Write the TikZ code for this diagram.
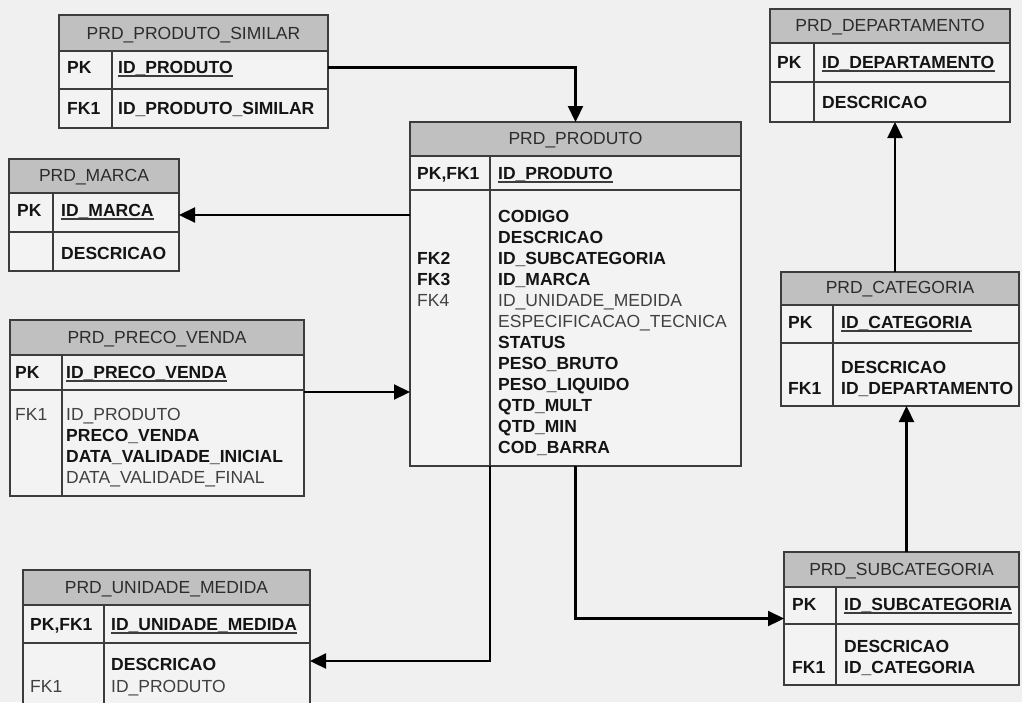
\documentclass[tikz,border=0pt]{standalone}
\usepackage{fontspec}
\setmainfont{Liberation Sans}
\usetikzlibrary{arrows.meta,calc}
\definecolor{bgc}{HTML}{F0F0F0}
\definecolor{bodyc}{HTML}{F3F3F3}
\definecolor{hdrfillc}{HTML}{C0C0C0}
\definecolor{framec}{HTML}{3C3C3C}
\definecolor{hdrc}{HTML}{2C2C2C}
\definecolor{boldc}{HTML}{141414}
\definecolor{regc}{HTML}{404040}
\newcommand{\fs}{\fontsize{17.5}{21}\selectfont}
\tikzset{
  x=1pt, y=-1pt,
  tbody/.style={fill=bodyc, inner sep=0pt, outer sep=0pt, anchor=north west},
  frameline/.style={draw=framec, line width=1.8pt},
  hdrtext/.style={anchor=base, inner sep=0pt, text=hdrc, font=\fs},
  keyb/.style={anchor=base west, inner sep=0pt, text=boldc, font=\fs\bfseries},
  keyr/.style={anchor=base west, inner sep=0pt, text=regc, font=\fs},
  ulline/.style={draw=framec, line width=1.2pt},
  arr/.style={draw=black, line width=2.2pt, -{Triangle[length=16pt,width=15pt]}},
}
% name, x1, y1, x2, y2, header bottom, first row bottom, divider x, title
\newcommand{\ertable}[9]{%
  \node[tbody, minimum width={(#4-(#2))*1pt}, minimum height={(#5-(#3))*1pt}] (#1) at (#2,#3) {};
  \fill[hdrfillc] (#2,#3) rectangle (#4,#6);
  \node[hdrtext] (#1-title) at ({(#2+#4)/2},{#6-12}) {#9};
  \draw[frameline] (#2,#6) -- (#4,#6) (#2,#7) -- (#4,#7) (#8,#6) -- (#8,#5);
  \draw[frameline] (#1.north west) rectangle (#1.south east);
}
\newcommand{\fld}[5]{\node[#1] (#2) at (#3,#4) {#5};}
\newcommand{\keyline}[1]{\draw[ulline] ([yshift=-3pt]#1.base west) -- ([yshift=-3pt]#1.base east);}
\begin{document}
\begin{tikzpicture}
\useasboundingbox (0,0) rectangle (1022,702);
\fill[bgc] (0,0) rectangle (1022,702);
\clip (0,0) rectangle (1022,702);

% PRD_PRODUTO_SIMILAR
\ertable{sim}{59}{15}{328}{128}{51}{89}{112}{PRD\_PRODUTO\_SIMILAR}
\fld{keyb}{sim-pk}{67}{73}{PK}
\fld{keyb}{sim-id}{118}{73}{ID\_PRODUTO}\keyline{sim-id}
\fld{keyb}{sim-fk1}{67}{114}{FK1}
\fld{keyb}{sim-f1}{118}{114}{ID\_PRODUTO\_SIMILAR}

% PRD_MARCA
\ertable{marca}{9}{159}{179}{271}{193}{232}{53}{PRD\_MARCA}
\fld{keyb}{marca-pk}{17}{216}{PK}
\fld{keyb}{marca-id}{61}{216}{ID\_MARCA}\keyline{marca-id}
\fld{keyb}{marca-f1}{61}{259}{DESCRICAO}

% PRD_PRECO_VENDA
\ertable{preco}{10}{320}{304}{496}{355}{390}{62}{PRD\_PRECO\_VENDA}
\fld{keyb}{preco-pk}{15}{378}{PK}
\fld{keyb}{preco-id}{66}{378}{ID\_PRECO\_VENDA}\keyline{preco-id}
\fld{keyr}{preco-fk1}{15}{420}{FK1}
\fld{keyr}{preco-f1}{66}{420}{ID\_PRODUTO}
\fld{keyb}{preco-f2}{66}{441}{PRECO\_VENDA}
\fld{keyb}{preco-f3}{66}{462}{DATA\_VALIDADE\_INICIAL}
\fld{keyr}{preco-f4}{66}{483}{DATA\_VALIDADE\_FINAL}

% PRD_PRODUTO
\ertable{prod}{410}{122}{741}{466}{156}{190}{490}{PRD\_PRODUTO}
\fld{keyb}{prod-pk}{417}{179}{PK,FK1}
\fld{keyb}{prod-id}{498}{179}{ID\_PRODUTO}\keyline{prod-id}
\fld{keyb}{prod-fk2}{417}{264}{FK2}
\fld{keyb}{prod-fk3}{417}{285}{FK3}
\fld{keyr}{prod-fk4}{417}{306}{FK4}
\fld{keyb}{prod-f1}{498}{222}{CODIGO}
\fld{keyb}{prod-f2}{498}{243}{DESCRICAO}
\fld{keyb}{prod-f3}{498}{264}{ID\_SUBCATEGORIA}
\fld{keyb}{prod-f4}{498}{285}{ID\_MARCA}
\fld{keyr}{prod-f5}{498}{306}{ID\_UNIDADE\_MEDIDA}
\fld{keyr}{prod-f6}{498}{327}{ESPECIFICACAO\_TECNICA}
\fld{keyb}{prod-f7}{498}{348}{STATUS}
\fld{keyb}{prod-f8}{498}{369}{PESO\_BRUTO}
\fld{keyb}{prod-f9}{498}{390}{PESO\_LIQUIDO}
\fld{keyb}{prod-f10}{498}{411}{QTD\_MULT}
\fld{keyb}{prod-f11}{498}{432}{QTD\_MIN}
\fld{keyb}{prod-f12}{498}{453}{COD\_BARRA}

% PRD_DEPARTAMENTO
\ertable{dept}{770}{9}{1010}{122}{43}{82}{814}{PRD\_DEPARTAMENTO}
\fld{keyb}{dept-pk}{777}{68}{PK}
\fld{keyb}{dept-id}{822}{68}{ID\_DEPARTAMENTO}\keyline{dept-id}
\fld{keyb}{dept-f1}{822}{108}{DESCRICAO}

% PRD_CATEGORIA
\ertable{cat}{781}{272}{1019}{406}{305}{343}{833}{PRD\_CATEGORIA}
\fld{keyb}{cat-pk}{788}{328}{PK}
\fld{keyb}{cat-id}{841}{328}{ID\_CATEGORIA}\keyline{cat-id}
\fld{keyb}{cat-f1}{841}{373}{DESCRICAO}
\fld{keyb}{cat-fk1}{788}{394}{FK1}
\fld{keyb}{cat-f2}{841}{394}{ID\_DEPARTAMENTO}

% PRD_SUBCATEGORIA
\ertable{subcat}{784}{552}{1019}{685}{587}{624}{836}{PRD\_SUBCATEGORIA}
\fld{keyb}{subcat-pk}{792}{610}{PK}
\fld{keyb}{subcat-id}{844}{610}{ID\_SUBCATEGORIA}\keyline{subcat-id}
\fld{keyb}{subcat-f1}{844}{652}{DESCRICAO}
\fld{keyb}{subcat-fk1}{792}{673}{FK1}
\fld{keyb}{subcat-f2}{844}{673}{ID\_CATEGORIA}

% PRD_UNIDADE_MEDIDA
\ertable{uni}{23}{570}{310}{720}{605}{643}{104}{PRD\_UNIDADE\_MEDIDA}
\fld{keyb}{uni-pk}{30}{630}{PK,FK1}
\fld{keyb}{uni-id}{111}{630}{ID\_UNIDADE\_MEDIDA}\keyline{uni-id}
\fld{keyb}{uni-f1}{111}{670}{DESCRICAO}
\fld{keyr}{uni-fk1}{30}{692}{FK1}
\fld{keyr}{uni-f2}{111}{692}{ID\_PRODUTO}

% connectors
\draw[arr] ([yshift=4pt]sim.east) -| (prod.north);
\draw[arr] (prod.west |- marca.east) -- (marca.east);
\coordinate (pv) at ([yshift=16pt]preco.east);
\draw[arr] (pv) -- (pv -| prod.west);
\draw[arr] ([xshift=-85.5pt]prod.south) |- ([yshift=-16pt]uni.east);
\draw[arr] (prod.south) |- (subcat.west);
\coordinate (sc) at ([xshift=5pt]subcat.north);
\draw[arr] (sc) -- (sc |- cat.south);
\coordinate (cd) at ([xshift=5pt]dept.south);
\draw[arr] (cd |- cat.north) -- (cd);
\end{tikzpicture}
\end{document}
